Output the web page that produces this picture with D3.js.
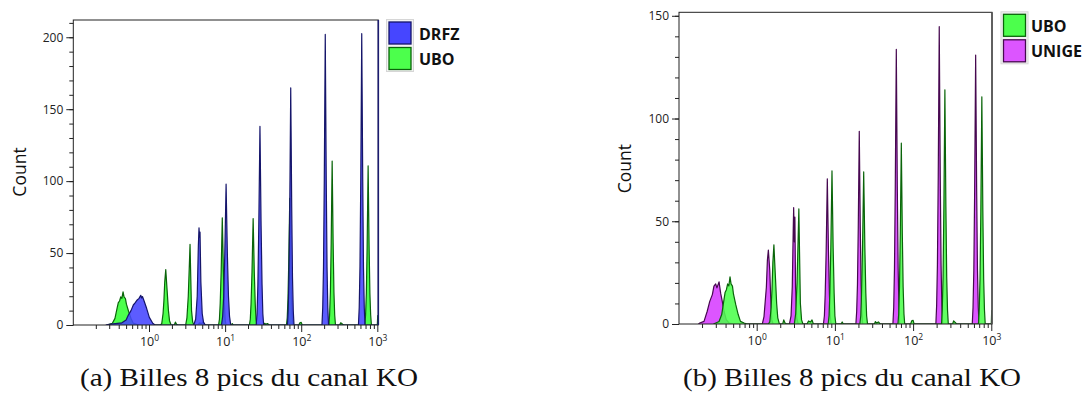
<!DOCTYPE html>
<html><head><meta charset="utf-8">
<script src="https://cdn.jsdelivr.net/npm/d3@7"></script>
<style>html,body{margin:0;padding:0;background:#fff}svg{display:block}</style>
</head><body><svg id="c" width="1084" height="393"></svg>
<script>
// ---------- data ----------
const yTicksA = [0, 50, 100, 150, 200];
const yTicksB = [0, 50, 100, 150];
const xMajor = [1, 10, 100, 1000];
const xExp = ["0", "1", "2", "3"];
const xMinor = [0.2,0.3,0.4,0.5,0.6,0.7,0.8,0.9, 2,3,4,5,6,7,8,9, 20,30,40,50,60,70,80,90, 200,300,400,500,600,700,800,900];
const captionA = "(a) Billes 8 pics du canal KO";
const captionB = "(b) Billes 8 pics du canal KO";
const yLabel = "Count";

// [intensity, count]
const drfz = [
  [0.27,0],[0.30,0.5],[0.36,1],[0.44,1.5],[0.50,3.5],[0.535,6.9],[0.58,10],[0.622,13.9],[0.66,15.5],[0.70,17.4],[0.74,18.5],[0.762,19.7],[0.78,20.6],[0.80,18.8],[0.82,19.8],[0.86,16.9],[0.93,11.6],[1.01,5.3],[1.12,1.2],[1.20,0],
  [3.87,0],[4.10,4],[4.30,20],[4.45,55],[4.54,67.6],[4.60,61],[4.68,64.5],[4.80,30],[5.00,8],[5.20,2],[5.50,0],
  [8.96,0],[9.28,6],[9.58,20],[9.9,49],[10.3,97.9],[10.71,49],[11.07,20],[11.43,6],[11.85,0],
  [25.6,0],[26.3,8],[26.95,28],[27.7,69],[28.7,138],[29.7,69],[30.57,28],[31.3,8],[32.1,0],
  [65.9,0],[67.4,10],[69.0,33],[70.7,82],[72.8,164.8],[75.0,82],[76.8,33],[78.6,10],[80.4,0],
  [187.3,0],[191.7,12],[196.2,40],[201,101],[207,202],[213.2,101],[218.4,40],[223.6,12],[228.7,0],
  [565,0],[578,12],[591.5,40],[606,101],[624,202.5],[643,101],[658,40],[674,12],[689,0],
  [1030,0]
];
const ubo = [
  [0.28,0],[0.30,0.5],[0.33,1.2],[0.357,4.6],[0.382,12],[0.395,15.5],[0.41,16.7],[0.425,19.5],[0.44,18.5],[0.456,23],[0.47,19.5],[0.49,18.4],[0.505,14.5],[0.54,9.4],[0.58,4.6],[0.62,1.3],[0.69,0.5],[0.75,0],
  [1.41,0],[1.47,1],[1.53,8],[1.57,17],[1.61,30],[1.66,38.5],[1.70,30],[1.74,22],[1.80,10],[1.86,3],[1.95,0],
  [2.15,0],[2.22,2],[2.30,0.5],[2.40,0],
  [3.03,0],[3.15,5],[3.28,20],[3.38,40],[3.46,56],[3.53,35],[3.62,10],[3.75,2],[3.90,0],
  [4.4,0],[4.6,1.5],[4.9,1],[5.1,2],[5.3,0],
  [8.2,0],[8.42,4],[8.62,15],[8.87,37],[9.18,74.5],[9.5,37],[9.78,15],[10.0,4],[10.28,0],
  [12.0,0],[12.4,1],[12.8,0],
  [20.85,0],[21.42,4],[21.92,15],[22.56,37],[23.35,74],[24.17,37],[24.87,15],[25.45,4],[26.15,0],
  [32,0],[33,1.2],[34,0.5],[36,1],[38,0],
  [64,0],[65.5,5],[67,18],[68.6,44],[70.7,88],[72.8,44],[74.6,18],[76.4,5],[78.1,0],
  [93,0],[96,1.5],[100,1.8],[103,0],
  [231,0],[236,7],[241.7,23],[247.6,57],[255,114],[262.7,57],[269,23],[275.4,7],[282,0],
  [320,0],[330,1.5],[345,0.8],[360,0],
  [685,0],[701,7],[717.5,22],[735,55],[757,110.6],[779.7,55],[798.6,22],[817.6,7],[836.5,0],
  [1000,0],[1012,6.5],[1060,6.5]
];
const unige = [
  [0.18,0],[0.187,0.5],[0.212,1.3],[0.233,6.2],[0.251,11],[0.271,14.3],[0.284,18.4],[0.299,19.5],[0.31,17.6],[0.33,20.5],[0.346,15],[0.363,11],[0.382,6.2],[0.408,2.1],[0.443,0.5],[0.50,0],
  [1.18,0],[1.24,3.6],[1.33,18],[1.37,31],[1.41,36],[1.47,26],[1.51,13],[1.56,2],[1.62,0],
  [2.62,0],[2.75,4],[2.85,18],[2.93,45],[2.97,56.6],[3.03,40],[3.08,52],[3.14,18],[3.25,3],[3.40,0],
  [7.14,0],[7.34,4],[7.51,14],[7.73,35],[8.0,70.7],[8.28,35],[8.52,14],[8.72,4],[8.96,0],
  [18.55,0],[18.98,6],[19.43,19],[19.9,47],[20.5,93.8],[21.12,47],[21.63,19],[22.14,6],[22.65,0],
  [55.2,0],[56.5,8],[57.8,27],[59.2,67],[61.0,133.7],[62.8,67],[64.4,27],[65.9,8],[67.4,0],
  [195.5,0],[200,9],[204.7,29],[209.7,72],[216,144.7],[222.5,72],[227.9,29],[233.3,9],[238.7,0],
  [571,0],[584,8],[598,26],[612.6,65],[631,130.9],[650,65],[665.7,26],[681.5,8],[697.3,0],
  [1000,0]
];

// ---------- styles ----------
const STY = {
  DRFZ:  {fill: "#4646ff", stroke: "#15156a"},
  UBO:   {fill: "#4cff4c", stroke: "#0a640a"},
  UNIGE: {fill: "#dc55ff", stroke: "#46084f"}
};

const svg = d3.select("#c");
const FONT = "'Open Sans','Noto Sans',sans-serif";

function panel(cfg) {
  const g = svg.append("g");
  const x = d3.scaleLog().domain(cfg.xDomain).range([cfg.left, cfg.right]);
  const y = d3.scaleLinear().domain([0, cfg.yMax]).range([cfg.bottom, cfg.top]);
  const cid = "clip" + cfg.id;
  svg.append("clipPath").attr("id", cid).append("rect")
    .attr("x", cfg.left).attr("y", cfg.top - 2)
    .attr("width", cfg.right - cfg.left).attr("height", cfg.bottom - cfg.top + 2);

  const area = d3.area().x(d => x(d[0])).y0(y(0)).y1(d => y(d[1]));
  const line = d3.line().x(d => x(d[0])).y(d => y(d[1]));
  const plot = g.append("g").attr("clip-path", `url(#${cid})`);
  cfg.series.forEach((s, i) => {
    const st = STY[s.name];
    plot.append("path").datum(s.data).attr("d", area)
      .attr("fill", st.fill).attr("fill-opacity", i === 0 ? 1 : 0.88);
    plot.append("path").datum(s.data).attr("d", line)
      .attr("fill", "none").attr("stroke", st.stroke).attr("stroke-width", 1.2)
      .attr("stroke-linejoin", "round");
  });

  // frame
  g.append("rect").attr("x", cfg.left).attr("y", cfg.top)
    .attr("width", cfg.right - cfg.left).attr("height", cfg.bottom - cfg.top)
    .attr("fill", "none").attr("stroke", "#222").attr("stroke-width", 1);
  g.append("line").attr("x1", cfg.right).attr("x2", cfg.right)
    .attr("y1", cfg.top).attr("y2", cfg.bottom)
    .attr("stroke", cfg.rightColor).attr("stroke-width", 1.6);

  // y axis
  const yMinor = d3.range(0, cfg.yMax, 10);
  const ya = g.append("g").attr("transform", `translate(${cfg.left},0)`);
  ya.call(d3.axisLeft(y).tickValues(yMinor).tickSize(4).tickFormat(""));
  ya.call(g2 => g2.select(".domain").remove());
  const yb = g.append("g").attr("transform", `translate(${cfg.left},0)`);
  yb.call(d3.axisLeft(y).tickValues(cfg.yTicks).tickSize(7).tickPadding(3).tickFormat(d3.format("d")));
  yb.select(".domain").remove();
  yb.selectAll("text").attr("font-family", FONT).attr("font-size", 12).attr("fill", "#222");
  [ya, yb].forEach(a => a.selectAll("line").attr("stroke", "#222"));

  // x axis
  const xa = g.append("g").attr("transform", `translate(0,${cfg.bottom})`);
  xa.call(d3.axisBottom(x).tickValues(xMinor).tickSize(4).tickFormat(""));
  xa.select(".domain").remove();
  const xb = g.append("g").attr("transform", `translate(0,${cfg.bottom})`);
  xb.call(d3.axisBottom(x).tickValues(xMajor).tickSize(7).tickFormat(""));
  xb.select(".domain").remove();
  [xa, xb].forEach(a => a.selectAll("line").attr("stroke", "#222"));
  xb.selectAll(".tick").each(function(d, i) {
    const t = d3.select(this).select("text")
      .attr("y", 21).attr("dy", 0).attr("font-family", FONT).attr("fill", "#222")
      .attr("text-anchor", "middle");
    t.append("tspan").attr("font-size", 12.5).text("10");
    t.append("tspan").attr("font-size", 8.5).attr("dy", -5).text(xExp[i]);
  });

  // y label
  g.append("text").attr("transform", `translate(${cfg.ylabX},${cfg.ylabY}) rotate(-90)`)
    .attr("text-anchor", "middle").attr("font-family", FONT).attr("font-size", 17.5)
    .attr("fill", "#111").text(yLabel);

  // legend
  const lg = g.append("g");
  lg.append("rect").attr("x", cfg.legX - 2.5).attr("y", cfg.legY - 2.5)
    .attr("width", 27).attr("height", 52)
    .attr("fill", "#f3f3f3").attr("stroke", "#d6d6d6").attr("stroke-width", 1);
  cfg.legend.forEach((name, i) => {
    const st = STY[name];
    lg.append("rect").attr("x", cfg.legX).attr("y", cfg.legY + i * 25.5)
      .attr("width", 22).attr("height", 22)
      .attr("fill", st.fill).attr("stroke", st.stroke).attr("stroke-width", 1.3);
    lg.append("text").attr("x", cfg.legTextX).attr("y", cfg.legY + 17.5 + i * 25.5)
      .attr("font-family", FONT).attr("font-weight", "bold").attr("font-size", 16)
      .attr("fill", "#111").text(name);
  });

  // caption
  g.append("text").attr("x", cfg.capX).attr("y", 386).attr("text-anchor", "middle")
    .attr("font-family", "'Liberation Serif',serif").attr("font-size", 25)
    .attr("fill", "#111").attr("textLength", 338).attr("lengthAdjust", "spacingAndGlyphs")
    .text(cfg.caption);
}

panel({
  id: "a", left: 73.3, right: 378.3, top: 20, bottom: 325,
  xDomain: [0.1012, 1030], yMax: 212.0, yTicks: yTicksA,
  series: [{name: "UBO", data: ubo}, {name: "DRFZ", data: drfz}],
  legend: ["DRFZ", "UBO"], legX: 389, legY: 22, legTextX: 419,
  ylabX: 25.5, ylabY: 172, capX: 249, caption: captionA, rightColor: "#1c1c70"
});
panel({
  id: "b", left: 679, right: 992, top: 12.3, bottom: 324,
  xDomain: [0.1015, 1021], yMax: 151.7, yTicks: yTicksB,
  series: [{name: "UNIGE", data: unige}, {name: "UBO", data: ubo}],
  legend: ["UBO", "UNIGE"], legX: 1003.5, legY: 14.3, legTextX: 1031,
  ylabX: 630.5, ylabY: 168.7, capX: 852, caption: captionB, rightColor: "#555"
});
</script>
</body></html>
